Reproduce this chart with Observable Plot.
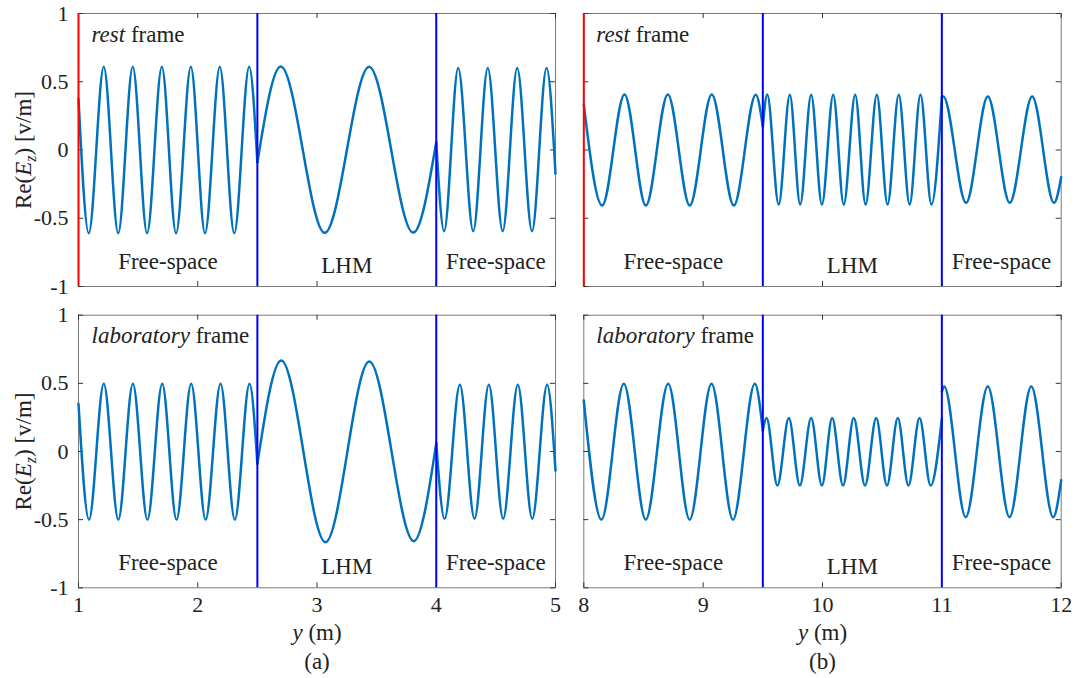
<!DOCTYPE html>
<html><head><meta charset="utf-8">
<script src="https://cdn.jsdelivr.net/npm/d3@7"></script>
<script src="https://cdn.jsdelivr.net/npm/@observablehq/plot@0.6"></script>
<style>
body{margin:0;background:#fff;}
#fig{position:relative;width:1086px;height:678px;background:#fff;font-family:"Liberation Serif","Times New Roman",serif;}
#fig svg{position:absolute;font-family:"Liberation Serif","Times New Roman",serif !important;}
#fig svg text, #fig svg tspan{font-family:"Liberation Serif","Times New Roman",serif !important;}
</style></head><body><div id="fig"></div>
<script>
// ---- axis ticks / labels ----
const xTicksA = [1, 2, 3, 4, 5];
const xTicksB = [8, 9, 10, 11, 12];
const yTicks = [-1, -0.5, 0, 0.5, 1];
const boundsA = [1, 2.5, 4, 5];
const boundsB = [8, 9.5, 11, 12];
const regionNames = ["Free-space", "LHM", "Free-space"];
const frameNames = ["rest", "laboratory"];
const captions = ["(a)", "(b)"];
const yLabel = "Re(Ez) [v/m]";
const xLabel = "y (m)";

// ---- curve key points (extrema + interface values) ----
// (a) rest frame
const aRestX = [1.000, 1.086, 1.212, 1.333, 1.455, 1.575, 1.699, 1.818, 1.942, 2.061, 2.185, 2.306, 2.431, 2.500,
  2.500, 2.696, 3.065, 3.437, 3.807, 4.000,
  4.000, 4.066, 4.184, 4.310, 4.432, 4.557, 4.679, 4.803, 4.925, 5.000];
const aRestV = [0.375, -0.61, 0.61, -0.61, 0.61, -0.61, 0.61, -0.61, 0.61, -0.61, 0.61, -0.61, 0.61, -0.09,
  -0.09, 0.612, -0.607, 0.61, -0.605, 0.057,
  0.057, -0.595, 0.60, -0.595, 0.60, -0.595, 0.60, -0.595, 0.60, -0.174];
// (a) laboratory frame
const aLabX = [1.000, 1.088, 1.212, 1.334, 1.456, 1.578, 1.702, 1.822, 1.945, 2.066, 2.191, 2.311, 2.434, 2.500,
  2.500, 2.700, 3.071, 3.438, 3.812, 4.000,
  4.000, 4.070, 4.198, 4.321, 4.441, 4.561, 4.684, 4.805, 4.930, 5.000];
const aLabV = [0.35, -0.50, 0.497, -0.50, 0.497, -0.50, 0.497, -0.50, 0.497, -0.50, 0.497, -0.50, 0.497, -0.09,
  -0.09, 0.668, -0.665, 0.66, -0.658, 0.06,
  0.06, -0.494, 0.489, -0.494, 0.489, -0.494, 0.489, -0.494, 0.489, -0.14];
// (b) rest frame
const bRestX = [8.000, 8.154, 8.341, 8.520, 8.704, 8.888, 9.072, 9.257, 9.441, 9.500,
  9.500, 9.537, 9.633, 9.726, 9.813, 9.905, 9.995, 10.090, 10.178, 10.274, 10.361, 10.455, 10.545, 10.639, 10.730, 10.821, 10.913, 11.000,
  11.000, 11.012, 11.203, 11.385, 11.569, 11.757, 11.940, 12.000];
const bRestV = [0.333, -0.407, 0.407, -0.407, 0.407, -0.407, 0.407, -0.407, 0.405, 0.172,
  0.172, 0.407, -0.40, 0.405, -0.40, 0.405, -0.40, 0.405, -0.40, 0.405, -0.40, 0.405, -0.40, 0.405, -0.40, 0.405, -0.40, 0.387,
  0.387, 0.392, -0.387, 0.392, -0.387, 0.392, -0.387, -0.20];
// (b) laboratory frame
const bLabX = [8.000, 8.148, 8.335, 8.519, 8.707, 8.887, 9.070, 9.250, 9.433, 9.500,
  9.500, 9.531, 9.622, 9.718, 9.810, 9.905, 9.995, 10.081, 10.172, 10.262, 10.356, 10.450, 10.540, 10.631, 10.720, 10.813, 10.906, 11.000,
  11.000, 11.020, 11.200, 11.385, 11.567, 11.749, 11.933, 12.000];
const bLabV = [0.374, -0.50, 0.497, -0.50, 0.497, -0.50, 0.497, -0.50, 0.497, 0.154,
  0.154, 0.245, -0.25, 0.245, -0.25, 0.245, -0.25, 0.245, -0.25, 0.245, -0.25, 0.245, -0.25, 0.245, -0.25, 0.245, -0.25, 0.24,
  0.44, 0.477, -0.482, 0.477, -0.482, 0.477, -0.482, -0.21];

// ---- build ----
const FONT = "Liberation Serif, Times New Roman, serif";
const TXT = "#222222";
const FS = 23;
const TFS = 22;

function toRecords(xs, vs) {
  let seg = 0;
  return xs.map((x, i) => {
    if (i > 0 && x === xs[i - 1]) seg++;
    return {x, v: vs[i], seg};
  });
}

function enrich(svg) {
  svg.setAttribute("font-family", FONT);
  d3.select(svg).selectAll("g").attr("font-family", FONT);
  d3.select(svg).selectAll("text").each(function () {
    const t = this.textContent;
    const sel = d3.select(this);
    sel.attr("font-family", FONT);
    if (frameNames.some(n => t === n + " frame")) {
      const w = t.replace(" frame", "");
      sel.text(null);
      sel.append("tspan").attr("font-style", "italic").text(w);
      sel.append("tspan").text(" frame");
    } else if (t === yLabel) {
      sel.text(null);
      sel.append("tspan").text("Re(");
      sel.append("tspan").attr("font-style", "italic").text("E");
      sel.append("tspan").attr("font-style", "italic").attr("font-size", "16px").attr("dy", 5).text("z");
      sel.append("tspan").attr("dy", -5).text(") [v/m]");
    } else if (t === xLabel) {
      sel.text(null);
      sel.append("tspan").attr("font-style", "italic").text("y");
      sel.append("tspan").text(" (m)");
    }
  });
}

function panel(p) {
  const data = toRecords(p.xs, p.vs);
  const fh = p.height - p.mT - p.mB;
  const fw = p.width - p.mL - p.mR;
  const inner = p.bounds.slice(1, -1);
  const centers = regionNames.map((d, i) => (p.bounds[i] + p.bounds[i + 1]) / 2);
  const idx = regionNames.map((d, i) => i);
  const tOpt = {fontSize: FS, fill: TXT, fontFamily: FONT};
  const marks = [
    Plot.frame({stroke: "#7a7a7a", strokeWidth: 1}),
    Plot.ruleX(p.ticks, {x: d => d, insetBottom: fh - 5, stroke: "#333", strokeWidth: 1}),
    Plot.ruleX(p.ticks, {x: d => d, insetTop: fh - 5, stroke: "#333", strokeWidth: 1}),
    Plot.ruleY(yTicks, {y: d => d, insetRight: fw - 5, stroke: "#333", strokeWidth: 1}),
    Plot.ruleY(yTicks, {y: d => d, insetLeft: fw - 5, stroke: "#333", strokeWidth: 1}),
    Plot.line(data, {x: "x", y: "v", z: "seg", curve: "monotone-x", stroke: "#0072BD", strokeWidth: 2.5}),
    Plot.ruleX(inner, {x: d => d, stroke: "#0000FF", strokeWidth: 2}),
    Plot.text(idx.filter(i => regionNames[i] === "Free-space"),
      {...tOpt, x: i => centers[i], text: i => regionNames[i], frameAnchor: "bottom", dy: -18, lineAnchor: "bottom"}),
    Plot.text(idx.filter(i => regionNames[i] === "LHM"),
      {...tOpt, x: i => centers[i], text: i => regionNames[i], frameAnchor: "bottom", dy: -14, lineAnchor: "bottom"}),
    Plot.text([p.frame + " frame"], {...tOpt, frameAnchor: "top-left", dx: p.tdx, dy: 28, lineAnchor: "bottom", textAnchor: "start"})
  ];
  if (p.red) marks.push(Plot.ruleX([p.bounds[0]], {x: d => d, stroke: "#FF0000", strokeWidth: 2}));
  if (p.yLab) {
    marks.push(Plot.axisY(yTicks, {tickSize: 0, tickPadding: 10, tickFormat: d => String(d), fontSize: TFS, fontFamily: FONT, label: null, fill: TXT}));
    marks.push(Plot.text([yLabel], {...tOpt, frameAnchor: "left", dx: -55, rotate: -90, textAnchor: "middle", lineAnchor: "middle"}));
  }
  if (p.xLab) {
    marks.push(Plot.axisX(p.ticks, {tickSize: 0, tickPadding: 9, tickFormat: d => String(d), fontSize: TFS, fontFamily: FONT, label: null, fill: TXT}));
    marks.push(Plot.text([xLabel], {...tOpt, frameAnchor: "bottom", dy: 45, lineAnchor: "middle"}));
    marks.push(Plot.text([p.caption], {...tOpt, frameAnchor: "bottom", dy: 74, lineAnchor: "middle"}));
  }
  const svg = Plot.plot({
    width: p.width, height: p.height,
    marginLeft: p.mL, marginRight: p.mR, marginTop: p.mT, marginBottom: p.mB,
    x: {domain: p.domain, axis: null},
    y: {domain: [-1, 1], axis: null},
    style: {fontFamily: FONT, fontSize: FS + "px", color: TXT, background: "transparent", overflow: "visible"},
    marks
  });
  enrich(svg);
  svg.style.left = p.left + "px";
  svg.style.top = p.top + "px";
  document.getElementById("fig").appendChild(svg);
}

const panels = [
  {xs: aRestX, vs: aRestV, domain: [1, 5], ticks: xTicksA, bounds: boundsA, frame: frameNames[0], red: true, yLab: true, xLab: false,
    left: 0, top: 0, width: 570, height: 300, mL: 78, mR: 15, mT: 13, mB: 14, tdx: 13},
  {xs: aLabX, vs: aLabV, domain: [1, 5], ticks: xTicksA, bounds: boundsA, frame: frameNames[1], red: false, yLab: true, xLab: true, caption: captions[0],
    left: 0, top: 300, width: 570, height: 378, mL: 78, mR: 15, mT: 14.7, mB: 90.7, tdx: 13},
  {xs: bRestX, vs: bRestV, domain: [8, 12], ticks: xTicksB, bounds: boundsB, frame: frameNames[0], red: true, yLab: false, xLab: false,
    left: 570, top: 0, width: 516, height: 300, mL: 13.3, mR: 25.3, mT: 13, mB: 14, tdx: 12.5},
  {xs: bLabX, vs: bLabV, domain: [8, 12], ticks: xTicksB, bounds: boundsB, frame: frameNames[1], red: false, yLab: false, xLab: true, caption: captions[1],
    left: 570, top: 300, width: 516, height: 378, mL: 13.3, mR: 25.3, mT: 14.7, mB: 90.7, tdx: 12.5}
];
panels.forEach(panel);
</script></body></html>
